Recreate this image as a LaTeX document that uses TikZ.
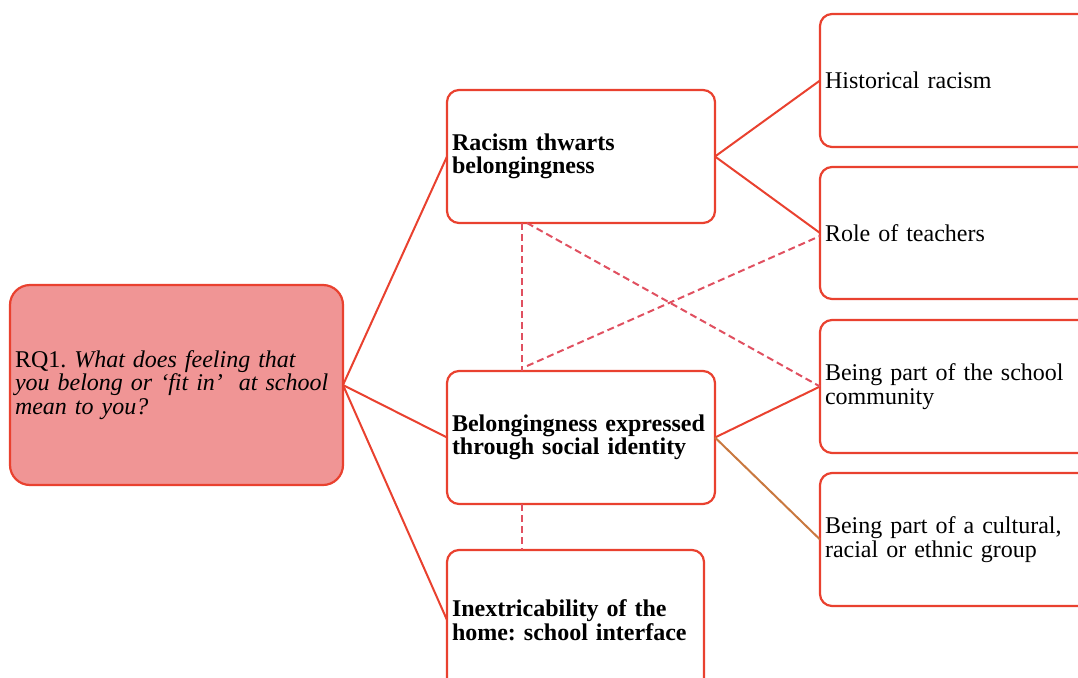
\documentclass[tikz,border=0pt]{standalone}
\usepackage{fontspec}
\setmainfont{Liberation Serif}
\usetikzlibrary{calc}
\definecolor{boxred}{HTML}{E9412F}
\definecolor{rootfill}{HTML}{F09595}
\definecolor{dashred}{HTML}{E05060}
\definecolor{brown}{HTML}{C9783F}
\begin{document}
\frenchspacing
\begin{tikzpicture}[x=1pt,y=1pt,
  box/.style={draw=boxred, line width=2.2pt, rounded corners=12pt, outer sep=0pt,
    inner xsep=5pt, inner ysep=0pt, align=left, anchor=north west,
    font=\fontsize{24}{23.5}\selectfont\frenchspacing},
  link/.style={draw=boxred, line width=2pt},
  dlink/.style={draw=dashred, line width=2pt, dash pattern=on 7pt off 4pt},
  blink/.style={draw=brown, line width=2pt}]
\useasboundingbox (0,0) rectangle (1078,-677);
\clip (0,0) rectangle (1078,-677);
\node[box, fill=rootfill, rounded corners=20pt, text width=323pt, minimum height=200pt] (root) at (10,-285)
  {RQ1. \textit{What does feeling that}\\\textit{you belong or ‘fit in’\ \ at school}\\\textit{mean to you?}};
\node[box, text width=258pt, minimum height=133pt] (racism) at (447,-90)
  {\textbf{Racism thwarts}\\\textbf{belongingness}};
\node[box, text width=258pt, minimum height=133pt] (belong) at (447,-371)
  {\mbox{\textbf{Belongingness expressed}}\\\mbox{\textbf{through social identity}}};
\node[box, text width=247pt, minimum height=140pt] (inex) at (447,-550)
  {\mbox{\textbf{Inextricability of the}}\\\mbox{\textbf{home: school interface}}};
\node[box, text width=270pt, minimum height=133pt] (hist) at (820,-14)
  {Historical racism};
\node[box, text width=270pt, minimum height=132pt] (role) at (820,-167)
  {Role of teachers};
\node[box, text width=270pt, minimum height=133pt] (school) at (820,-320)
  {Being part of the school\\community};
\node[box, text width=270pt, minimum height=133pt] (cult) at (820,-473)
  {Being part of a cultural,\\racial or ethnic group};
\coordinate (rb1) at ($(racism.south west)+(75,0)$);
\coordinate (rb2) at ($(racism.south west)+(80,0)$);
\coordinate (bt1) at ($(belong.north west)+(75,0)$);
\coordinate (bt2) at ($(belong.north west)+(80,5)$);
\coordinate (bb1) at ($(belong.south west)+(75,0)$);
\coordinate (it1) at ($(inex.north west)+(75,0)$);
\draw[link] (root.east) -- (racism.west);
\draw[link] (root.east) -- (belong.west);
\draw[link] (root.east) -- (inex.west);
\draw[link] (racism.east) -- (hist.west);
\draw[link] (racism.east) -- (role.west);
\draw[link] (belong.east) -- (school.west);
\draw[blink] (belong.east) -- (cult.west);
\draw[dlink] (rb1) -- (bt1);
\draw[dlink] (rb2) -- (school.west);
\draw[dlink] (bt2) -- ($(role.west)+(0,-3)$);
\draw[dlink] (bb1) -- (it1);
\end{tikzpicture}
\end{document}
